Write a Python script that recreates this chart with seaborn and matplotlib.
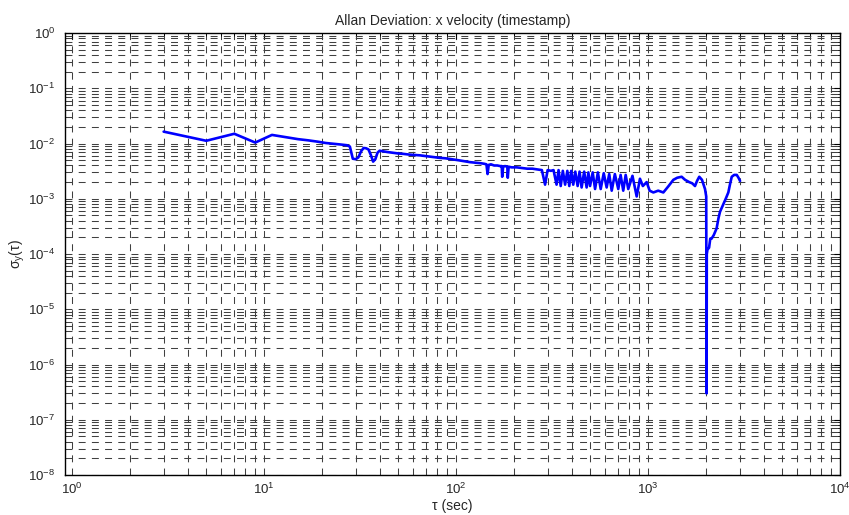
import numpy as np
import pandas as pd
import matplotlib
matplotlib.use("Agg")
import matplotlib.pyplot as plt
from matplotlib.ticker import LogLocator, NullFormatter, LogFormatterSciNotation
import seaborn as sns

# Averaging time tau (s) and Allan deviation of x velocity
tau = [3, 5, 7, 9, 11, 13, 15, 17, 19, 21, 23, 25, 27, 28, 29, 30, 31, 32, 33, 34,
       35, 36, 37, 38, 39, 40, 42, 44, 47, 50, 53, 57, 61, 65, 70, 76, 82, 88, 95, 102,
       110, 118, 126, 134, 140, 144, 146, 148, 152, 158, 164, 170, 173, 174, 176, 180,
       185, 186, 188, 195, 207, 220, 235, 250, 265, 280,
       291, 300, 312, 322, 334, 342, 351, 360, 370, 380, 389, 398, 408, 418, 430, 440,
       451, 465, 479, 489, 499, 515, 530, 548, 567, 588, 609, 628, 647, 672, 700, 720,
       743, 765, 789, 830, 873, 908, 940, 984, 1020, 1066, 1130, 1202, 1280, 1355,
       1420, 1497, 1560, 1640, 1700, 1757, 1800, 1849, 1910, 1981, 2010, 2019, 2024,
       2040, 2080, 2110, 2144, 2200, 2276, 2330, 2371, 2450, 2540, 2620, 2680, 2730,
       2810, 2899, 2960, 3016]

adev = [0.0164, 0.0112, 0.0150, 0.0104, 0.0143, 0.0130, 0.0120, 0.0114, 0.0108, 0.0102,
        0.0099, 0.0096, 0.0093, 0.0088, 0.0053, 0.0052, 0.0056, 0.0072, 0.0083, 0.0082,
        0.0078, 0.0062, 0.0047, 0.0052, 0.0068, 0.0074, 0.0072, 0.0070, 0.0068, 0.0066,
        0.0065, 0.0063, 0.0062, 0.0061, 0.0059, 0.0057, 0.0055, 0.0054, 0.0052, 0.0050,
        0.0048, 0.0046, 0.0045, 0.0044, 0.0043, 0.0042, 0.0028, 0.0041, 0.0042, 0.0040,
        0.0040, 0.0039, 0.0039, 0.0025, 0.0038, 0.0039, 0.0038, 0.0024, 0.0038, 0.0037,
        0.0037, 0.0036, 0.0035, 0.0035, 0.0034, 0.0033,
        0.0018, 0.0033, 0.0032, 0.0033, 0.0018, 0.0033, 0.0017, 0.0032, 0.0018, 0.0032,
        0.0017, 0.0032, 0.0018, 0.0031, 0.0017, 0.0031, 0.0016, 0.0031, 0.0016, 0.0030,
        0.0017, 0.0030, 0.0015, 0.0030, 0.0015, 0.0029, 0.0016, 0.0028, 0.0014, 0.0028,
        0.0015, 0.0027, 0.0014, 0.0027, 0.0015, 0.0026, 0.0011, 0.0023, 0.0017, 0.0020,
        0.0014, 0.0013, 0.0014, 0.0013, 0.0017, 0.0022, 0.0024, 0.0025, 0.0022, 0.0020,
        0.0019, 0.0017, 0.0021, 0.0025, 0.0022, 0.0015, 0.0011, 3.0e-7, 1.0e-4, 1.2e-4,
        1.3e-4, 1.9e-4, 1.9e-4, 2.2e-4, 2.9e-4, 4.5e-4, 5.8e-4, 7.5e-4, 1.0e-3, 1.3e-3,
        1.9e-3, 2.5e-3, 2.7e-3, 2.7e-3, 2.4e-3, 2.1e-3]

title = "Allan Deviation: x velocity (timestamp)"
xlabel = "τ (sec)"
ylabel = "σ$_y$(τ)"

sns.set_style("white")
plt.rcParams["font.family"] = ["Liberation Sans", "DejaVu Sans"]
plt.rcParams["mathtext.default"] = "regular"
plt.rcParams["axes.unicode_minus"] = False
plt.rcParams["lines.scale_dashes"] = False

df = pd.DataFrame({"tau": tau, "adev": adev})

fig = plt.figure(figsize=(8.49, 5.15), dpi=100)
ax = fig.add_axes([65 / 849, 1 - 475 / 515, (840 - 65) / 849, (475 - 33) / 515])

sns.lineplot(data=df, x="tau", y="adev", ax=ax, sort=False, estimator=None,
             color="#0000ff", linewidth=1.9, zorder=3)

ax.set_xscale("log")
ax.set_yscale("log")
ax.set_xlim(0.919, 1e4)
ax.set_ylim(1e-8, 1e0)

for axis in (ax.xaxis, ax.yaxis):
    axis.set_major_locator(LogLocator(base=10, numticks=30))
    axis.set_minor_locator(LogLocator(base=10, subs=np.arange(2, 10), numticks=300))
    axis.set_minor_formatter(NullFormatter())
    axis.set_major_formatter(LogFormatterSciNotation(base=10))

ax.grid(True, which="both", color="0.25", linewidth=0.75,
        linestyle=(0, (5.0, 4.5)), zorder=1)

ax.tick_params(which="both", direction="in", top=True, right=True,
               color="black", labelsize=9.5)
ax.tick_params(which="major", length=4, width=0.8)
ax.tick_params(which="minor", length=2.5, width=0.6)
ax.tick_params(axis="x", which="major", pad=5)
ax.tick_params(axis="y", which="major", pad=7)

for s in ax.spines.values():
    s.set_color("black")
    s.set_linewidth(1.0)

ax.set_title(title, fontsize=10, pad=6)
ax.set_xlabel(xlabel, fontsize=10, labelpad=1)
ax.set_ylabel(ylabel, fontsize=10, labelpad=1)

fig.savefig("out.png", dpi=100, facecolor="white")
